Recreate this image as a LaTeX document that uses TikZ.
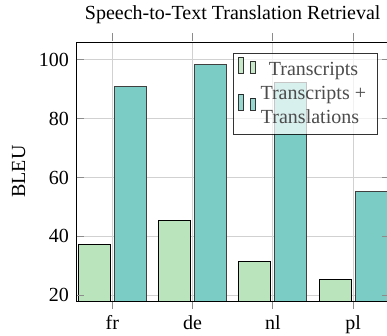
\documentclass[tikz,border=0pt]{standalone}
\usepackage{fontspec}
\setmainfont{Liberation Serif}
\definecolor{barA}{HTML}{BAE4BC}
\definecolor{barB}{HTML}{7BCCC4}
\tikzset{
  gridline/.style={black!18, line width=1pt},
  tickline/.style={black!45, line width=1pt},
  barAstyle/.style={fill=barA, draw=black, line width=0.9pt},
  barBstyle/.style={fill=barB, draw=black!75, line width=0.9pt},
  lbl/.style={inner sep=0pt, font=\fontsize{20}{24}\selectfont},
}
\begin{document}
\begin{tikzpicture}[x=1pt, y=-1pt]
\useasboundingbox (0,0) rectangle (387,336);
% grid
\foreach \yy in {60,118.75,177.5,236.25,295}
  \draw[gridline] (76,\yy) -- (389.5,\yy);
\foreach \xx in {112.3,192.6,272.9,353.2}
  \draw[gridline] (\xx,42) -- (\xx,301);
% bars
\foreach \xx/\ga/\gb in {112.3/244/86.7, 192.6/220/64, 272.9/261.7/82.3, 353.2/279.3/191}{
  \draw[barAstyle] (\xx-34,301) rectangle (\xx-2,\ga);
  \draw[barBstyle] (\xx+2,301) rectangle (\xx+34,\gb);
}
% axis frame
\draw[black, line width=0.9pt] (76,42) rectangle (389.5,301);
% ticks
\foreach \yy in {60,118.75,177.5,236.25,295}{
  \draw[tickline] (76.5,\yy) -- (84,\yy);
  \draw[tickline] (381.5,\yy) -- (389,\yy);
}
\foreach \xx in {112.3,192.6,272.9,353.2}{
  \draw[tickline] (\xx,33) -- (\xx,41.5);
  \draw[tickline] (\xx,301.5) -- (\xx,309);
}
% tick labels
\node[lbl, anchor=east] (y100) at (69,60) {100};
\node[lbl, anchor=east] (y80) at (69,118.75) {80};
\node[lbl, anchor=east] (y60) at (69,177.5) {60};
\node[lbl, anchor=east] (y40) at (69,236.25) {40};
\node[lbl, anchor=east] (y20) at (69,295) {20};
\node[lbl, anchor=base] (xfr) at (112.3,329.3) {fr};
\node[lbl, anchor=base] (xde) at (192.6,329.3) {de};
\node[lbl, anchor=base] (xnl) at (272.9,329.3) {nl};
\node[lbl, anchor=base] (xpl) at (353.2,329.3) {pl};
% title and axis label
\node[lbl, anchor=base] (title) at (232.7,19.3) {Speech-to-Text Translation Retrieval};
\node[lbl, anchor=base, rotate=90] (ylab) at (25,171.5) {BLEU};
% legend
\draw[fill=white, fill opacity=0.7, draw=black, draw opacity=0.8, line width=0.9pt] (233,53) rectangle (377,134);
\begin{scope}[opacity=0.8]
\draw[barAstyle] (238.5,73.5) rectangle (243,57.5);
\draw[barAstyle] (250.5,73.5) rectangle (255,61.5);
\draw[barBstyle, draw=black] (238.5,110) rectangle (243,94);
\draw[barBstyle, draw=black] (250.5,110) rectangle (255,98);
\end{scope}
\node[lbl, anchor=base, text=black!70] (leg1) at (313.5,75.7) {Transcripts};
\node[lbl, anchor=base, text=black!70] (leg2a) at (313.3,99.3) {Transcripts +};
\node[lbl, anchor=base, text=black!70] (leg2b) at (310,123.3) {Translations};
\end{tikzpicture}
\end{document}
